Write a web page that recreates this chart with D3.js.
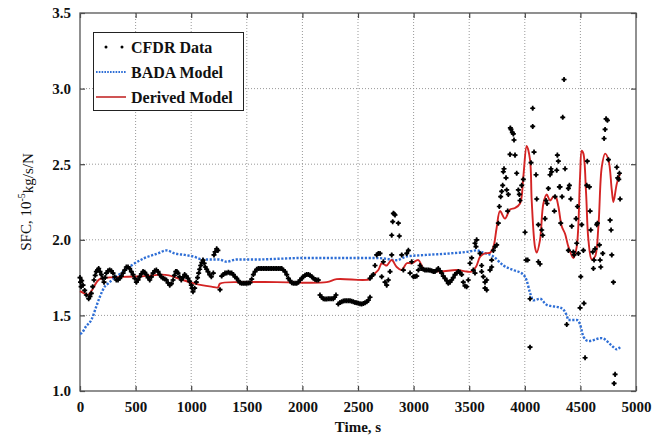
<!DOCTYPE html>
<html>
<head>
<meta charset="utf-8">
<script src="https://cdn.jsdelivr.net/npm/d3@7"></script>
<style>
  body { margin: 0; background: #fff; }
  svg { display: block; }
  .tick-label { font-family: "Liberation Serif", "Times New Roman", serif; font-weight: bold; font-size: 15px; fill: #111; }
</style>
</head>
<body>
<svg id="chart" width="667" height="439"></svg>
<script>
    // axis ticks
    var xTicks = [0, 500, 1000, 1500, 2000, 2500, 3000, 3500, 4000, 4500, 5000];
    var yTicks = [1.0, 1.5, 2.0, 2.5, 3.0, 3.5];

    // BADA model [time s, SFC]
    var badaData = [[0,1.38],[6,1.38],[57,1.43],[102,1.47],[147,1.56],[177,1.62],[222,1.69],[252,1.71],[312,1.75],
        [372,1.78],[462,1.83],[582,1.88],[701,1.91],[776,1.93],[851,1.91],[941,1.90],[1016,1.89],[1106,1.87],
        [1181,1.87],[1250,1.87],[1319,1.855],[1409,1.87],[1600,1.87],[1800,1.875],[2008,1.88],[2428,1.88],
        [2653,1.88],[2750,1.875],[2848,1.865],[2938,1.89],[3118,1.90],[3327,1.91],[3477,1.92],[3567,1.93],
        [3627,1.915],[3717,1.89],[3807,1.83],[3897,1.80],[3987,1.77],[4017,1.73],[4047,1.65],[4077,1.60],
        [4137,1.61],[4197,1.57],[4332,1.547],[4377,1.50],[4392,1.47],[4467,1.47],[4497,1.44],[4527,1.36],
        [4572,1.33],[4692,1.35],[4782,1.30],[4827,1.275],[4857,1.29]];

    // derived model [time s, SFC]
    var derivedData = [[0,1.66],[40,1.645],[72,1.635],[110,1.67],[150,1.72],[177,1.74],[250,1.75],[432,1.756],
        [582,1.76],[731,1.77],[800,1.765],[881,1.745],[1031,1.71],[1181,1.69],[1241,1.685],[1259,1.71],
        [1469,1.72],[1769,1.72],[2218,1.72],[2308,1.74],[2608,1.74],[2638,1.77],[2683,1.80],[2713,1.845],
        [2740,1.835],[2758,1.83],[2803,1.866],[2848,1.82],[2893,1.80],[2938,1.845],[2983,1.845],[3043,1.866],
        [3087,1.81],[3132,1.80],[3237,1.79],[3387,1.80],[3477,1.79],[3520,1.79],[3560,1.82],[3600,1.89],
        [3640,1.91],[3690,1.915],[3717,1.95],[3747,2.08],[3777,2.19],[3822,2.14],[3867,2.20],[3912,2.21],
        [3957,2.24],[3987,2.42],[4017,2.62],[4047,2.53],[4062,2.26],[4092,1.95],[4107,1.915],[4137,2.0],
        [4167,2.24],[4197,2.30],[4227,2.26],[4257,2.285],[4280,2.28],[4302,2.22],[4332,2.09],[4362,2.04],
        [4392,1.955],[4437,1.88],[4467,1.955],[4497,2.42],[4512,2.59],[4527,2.57],[4551,2.31],[4572,2.0],
        [4602,1.87],[4632,1.89],[4662,2.09],[4692,2.48],[4722,2.57],[4752,2.53],[4782,2.33],[4797,2.25],
        [4827,2.37],[4857,2.44]];

    // CFDR flight data [time s, SFC]
    var cfdrData = [[0,1.75],[5,1.72],[10,1.69],[15,1.73],[27,1.70],[42,1.665],[57,1.635],[78,1.61],[90,1.625],
        [102,1.646],[114,1.69],[126,1.734],[137,1.765],[147,1.79],[158,1.80],[168,1.81],[180,1.79],[192,1.77],
        [204,1.745],[216,1.72],[226,1.75],[237,1.78],[252,1.795],[267,1.80],[282,1.795],[297,1.78],[312,1.755],
        [327,1.734],[342,1.735],[357,1.745],[372,1.76],[387,1.78],[402,1.80],[417,1.82],[432,1.82],[447,1.81],
        [462,1.79],[477,1.77],[492,1.745],[507,1.72],[522,1.735],[537,1.756],[552,1.775],[567,1.79],[582,1.785],
        [597,1.77],[612,1.75],[627,1.734],[642,1.755],[657,1.78],[672,1.795],[687,1.80],[702,1.79],[717,1.77],
        [732,1.755],[747,1.745],[762,1.74],[777,1.734],[792,1.715],[807,1.70],[822,1.71],[837,1.734],[849,1.765],
        [861,1.79],[871,1.79],[881,1.78],[896,1.755],[911,1.734],[926,1.75],[941,1.77],[956,1.76],[971,1.745],
        [986,1.725],[1001,1.70],[1008,1.68],[1016,1.657],[1031,1.68],[1046,1.72],[1057,1.75],[1067,1.78],
        [1076,1.805],[1085,1.83],[1095,1.85],[1106,1.866],[1117,1.845],[1127,1.82],[1139,1.805],[1151,1.79],
        [1166,1.77],[1181,1.756],[1199,1.78],[1205,1.90],[1215,1.92],[1229,1.94],[1240,1.93],[1259,1.67],
        [1274,1.76],[1289,1.77],[1304,1.78],[1319,1.78],[1334,1.785],[1349,1.78],[1364,1.78],[1379,1.77],
        [1394,1.755],[1409,1.745],[1424,1.73],[1439,1.716],[1454,1.712],[1469,1.712],[1484,1.712],[1499,1.712],
        [1514,1.714],[1529,1.716],[1544,1.74],[1559,1.77],[1574,1.79],[1589,1.805],[1604,1.81],[1619,1.81],
        [1634,1.81],[1649,1.81],[1664,1.81],[1679,1.81],[1694,1.81],[1709,1.81],[1724,1.81],[1739,1.81],
        [1754,1.81],[1769,1.81],[1784,1.81],[1799,1.81],[1814,1.81],[1829,1.80],[1844,1.79],[1859,1.77],
        [1874,1.745],[1889,1.73],[1904,1.716],[1919,1.712],[1934,1.712],[1949,1.712],[1964,1.72],[1979,1.734],
        [1994,1.745],[2008,1.756],[2024,1.765],[2039,1.77],[2054,1.77],[2069,1.765],[2084,1.756],[2099,1.745],
        [2114,1.738],[2129,1.734],[2144,1.734],
        [2158,1.635],[2173,1.62],[2188,1.61],[2203,1.608],[2218,1.608],[2233,1.61],[2248,1.61],[2263,1.61],
        [2278,1.61],[2290,1.62],[2302,1.635],
        [2323,1.575],[2338,1.585],[2353,1.59],[2368,1.595],[2383,1.597],[2398,1.597],[2413,1.597],[2428,1.597],
        [2443,1.594],[2458,1.59],[2473,1.586],[2488,1.584],[2503,1.58],[2518,1.577],[2533,1.575],[2548,1.578],
        [2563,1.583],[2578,1.59],[2593,1.60],[2608,1.62],
        [2608,1.745],[2623,1.76],[2638,1.77],[2653,1.83],[2668,1.90],[2683,1.91],[2698,1.91],[2713,1.756],
        [2728,1.855],[2743,1.72],[2758,1.70],[2773,1.734],[2788,1.79],[2803,1.90],[2803,2.03],[2812,2.12],
        [2818,2.175],[2826,2.17],[2833,2.164],[2863,2.11],[2872,2.025],[2893,1.90],[2908,1.80],[2938,1.91],
        [2953,1.93],[2968,1.78],[2983,1.855],[2998,1.756],[3013,1.758],[3028,1.76],[3043,1.80],[3058,1.83],
        [3073,1.81],[3088,1.805],[3102,1.80],[3117,1.80],[3132,1.80],[3147,1.798],[3162,1.796],[3177,1.79],
        [3192,1.79],[3207,1.80],[3222,1.81],[3237,1.795],[3252,1.78],[3267,1.76],[3282,1.745],[3297,1.73],
        [3312,1.712],[3327,1.72],[3342,1.734],[3357,1.75],[3372,1.77],[3387,1.78],[3402,1.79],[3417,1.785],
        [3432,1.77],[3447,1.72],[3462,1.695],[3477,1.69],[3492,1.734],[3507,1.845],[3522,1.88],[3537,1.80],
        [3552,1.977],[3567,2.0],[3561,1.955],[3552,1.78],[3597,1.91],[3612,1.83],[3612,1.79],[3627,1.756],
        [3642,1.72],[3642,1.68],[3657,1.668],[3657,1.734],[3687,1.80],[3702,1.82],[3702,1.866],[3717,1.93],
        [3732,1.955],[3747,1.966],[3762,2.11],[3771,2.22],[3783,2.285],[3792,2.32],[3801,2.36],[3807,2.45],
        [3813,2.47],[3831,2.41],[3837,2.33],[3852,2.30],[3846,2.19],[3867,2.565],[3876,2.73],[3888,2.71],
        [3897,2.70],[3903,2.66],[3870,2.74],[3912,2.56],[3927,2.44],[3942,2.33],[3951,2.30],[3957,2.26],
        [3972,2.36],[3987,2.40],[4002,2.05],[4011,1.866],[4026,1.866],[4047,1.61],[4047,1.29],[4056,2.51],
        [4071,2.75],[4071,2.87],[4083,2.58],[4101,2.43],[4107,2.27],[4122,2.10],[4122,1.855],[4137,1.84],
        [4152,2.065],[4161,2.03],[4182,2.14],[4191,2.26],[4212,2.34],[4200,2.24],[4227,2.43],[4242,2.45],
        [4235,2.47],[4266,2.19],[4272,2.285],[4287,2.46],[4293,2.56],[4302,2.52],[4311,2.35],[4317,2.35],
        [4323,2.11],[4335,2.285],[4341,2.81],[4353,3.06],[4362,2.47],[4377,1.44],[4392,2.34],[4401,2.36],
        [4413,2.27],[4422,2.09],[4392,1.93],[4437,1.92],[4443,1.90],[4461,2.14],[4473,2.22],[4467,1.977],
        [4482,1.91],[4497,1.55],[4503,1.756],[4512,2.10],[4527,1.93],[4532,1.58],[4542,1.22],[4557,2.36],
        [4562,2.52],[4581,2.35],[4587,2.19],[4593,2.065],[4611,1.92],[4617,1.81],[4623,1.866],[4632,1.94],
        [4647,2.10],[4653,2.11],[4671,1.966],[4677,1.866],[4683,1.82],[4701,1.91],[4713,2.67],[4722,2.73],
        [4731,2.80],[4743,2.79],[4752,2.53],[4767,2.13],[4776,2.065],[4782,1.90],[4797,1.72],[4803,1.05],
        [4812,1.11],[4827,2.48],[4836,2.41],[4845,2.40],[4851,2.44],[4857,2.27]];

    var legendLabels = ["CFDR Data", "BADA Model", "Derived Model"];

    var svg = d3.select("#chart");
    var margin = { top: 13, right: 31, bottom: 48, left: 80 };
    var width = +svg.attr("width") - margin.left - margin.right;
    var height = +svg.attr("height") - margin.top - margin.bottom;

    svg.append("rect").attr("width", 667).attr("height", 439).attr("fill", "#fff");

    var g = svg.append("g").attr("transform", "translate(" + margin.left + "," + margin.top + ")");

    var x = d3.scaleLinear().domain([0, 5000]).range([0, width]);
    var y = d3.scaleLinear().domain([1.0, 3.5]).range([height, 0]);

    // dotted grid
    g.append("g")
        .selectAll("line")
        .data(xTicks.slice(1, -1))
        .enter().append("line")
        .attr("x1", function (d) { return x(d); })
        .attr("x2", function (d) { return x(d); })
        .attr("y1", 0).attr("y2", height)
        .attr("stroke", "#999").attr("stroke-width", 1).attr("stroke-dasharray", "1,2");
    g.append("g")
        .selectAll("line")
        .data(yTicks.slice(1, -1))
        .enter().append("line")
        .attr("y1", function (d) { return y(d); })
        .attr("y2", function (d) { return y(d); })
        .attr("x1", 0).attr("x2", width)
        .attr("stroke", "#999").attr("stroke-width", 1).attr("stroke-dasharray", "1,2");

    // axes, ticks pointing inward on all four sides
    function styleAxis(sel) {
        sel.select(".domain").remove();
        sel.selectAll(".tick line").attr("stroke", "#444").attr("stroke-width", 1.2);
        sel.selectAll(".tick text").attr("class", "tick-label").attr("fill", null);
    }
    g.append("g")
        .attr("transform", "translate(0," + height + ")")
        .call(d3.axisBottom(x).tickValues(xTicks).tickSize(-5).tickPadding(10).tickFormat(d3.format("d")))
        .call(styleAxis);
    g.append("g")
        .call(d3.axisTop(x).tickValues(xTicks).tickSize(-5).tickFormat(""))
        .call(styleAxis);
    g.append("g")
        .call(d3.axisLeft(y).tickValues(yTicks).tickSize(-5).tickPadding(9).tickFormat(d3.format(".1f")))
        .call(styleAxis);
    g.append("g")
        .attr("transform", "translate(" + width + ",0)")
        .call(d3.axisRight(y).tickValues(yTicks).tickSize(-5).tickFormat(""))
        .call(styleAxis);

    g.append("rect")
        .attr("width", width).attr("height", height)
        .attr("fill", "none").attr("stroke", "#555").attr("stroke-width", 1.3);

    // BADA model, blue dotted
    var line = d3.line()
        .x(function (d) { return x(d[0]); })
        .y(function (d) { return y(d[1]); });
    g.append("path")
        .datum(badaData)
        .attr("d", line.curve(d3.curveMonotoneX))
        .attr("fill", "none")
        .attr("stroke", "#2f6fd6")
        .attr("stroke-width", 2.4)
        .attr("stroke-dasharray", "2.2,1.6");

    // derived model, red
    g.append("path")
        .datum(derivedData)
        .attr("d", d3.line()
            .x(function (d) { return x(d[0]); })
            .y(function (d) { return y(d[1]); })
            .curve(d3.curveCatmullRom.alpha(0.5)))
        .attr("fill", "none")
        .attr("stroke", "#d42424")
        .attr("stroke-width", 1.9);

    // CFDR data points: rounded star blobs
    var cross = d3.symbol().type(d3.symbolCross).size(14);
    var dot = d3.symbol().type(d3.symbolCircle).size(8);
    var pts = g.selectAll(".cfdr")
        .data(cfdrData)
        .enter().append("g")
        .attr("class", "cfdr")
        .attr("transform", function (d) { return "translate(" + x(d[0]) + "," + y(d[1]) + ")"; });
    pts.append("path").attr("d", cross).attr("fill", "#000");
    pts.append("path").attr("d", dot).attr("fill", "#000");

    // legend
    var legend = svg.append("g");
    legend.append("rect")
        .attr("x", 93.5).attr("y", 32.5).attr("width", 150).attr("height", 78)
        .attr("fill", "#fff").attr("stroke", "#222").attr("stroke-width", 1);
    var rows = [47, 72, 97];
    legend.selectAll("text")
        .data(legendLabels)
        .enter().append("text")
        .attr("x", 131)
        .attr("y", function (d, i) { return rows[i] + 5.5; })
        .attr("font-family", "'Liberation Serif', 'Times New Roman', serif")
        .attr("font-weight", "bold")
        .attr("font-size", "16px")
        .attr("fill", "#111")
        .text(function (d) { return d; });
    [106, 122].forEach(function (px) {
        legend.append("circle")
            .attr("cx", px).attr("cy", rows[0]).attr("r", 1.5)
            .attr("fill", "#000");
    });
    legend.append("line")
        .attr("x1", 96).attr("x2", 126).attr("y1", rows[1]).attr("y2", rows[1])
        .attr("stroke", "#2f6fd6").attr("stroke-width", 2).attr("stroke-dasharray", "1.6,1.2");
    legend.append("line")
        .attr("x1", 96).attr("x2", 126).attr("y1", rows[2]).attr("y2", rows[2])
        .attr("stroke", "#c42a2a").attr("stroke-width", 1.6);

    // axis titles
    svg.append("text")
        .attr("x", margin.left + width / 2)
        .attr("y", 432)
        .attr("text-anchor", "middle")
        .attr("font-family", "'Liberation Serif', 'Times New Roman', serif")
        .attr("font-weight", "bold")
        .attr("font-size", "15px")
        .attr("fill", "#111")
        .text("Time, s");

    var yTitle = svg.append("text")
        .attr("transform", "translate(31," + (margin.top + height / 2) + ") rotate(-90)")
        .attr("text-anchor", "middle")
        .attr("font-family", "'Liberation Serif', 'Times New Roman', serif")
        .attr("font-size", "15px")
        .attr("fill", "#111");
    yTitle.append("tspan").text("SFC, 10");
    yTitle.append("tspan").attr("dy", -6).attr("font-size", "10px").text("-5");
    yTitle.append("tspan").attr("dy", 8).text("kg/s/N");
</script>
</body>
</html>
